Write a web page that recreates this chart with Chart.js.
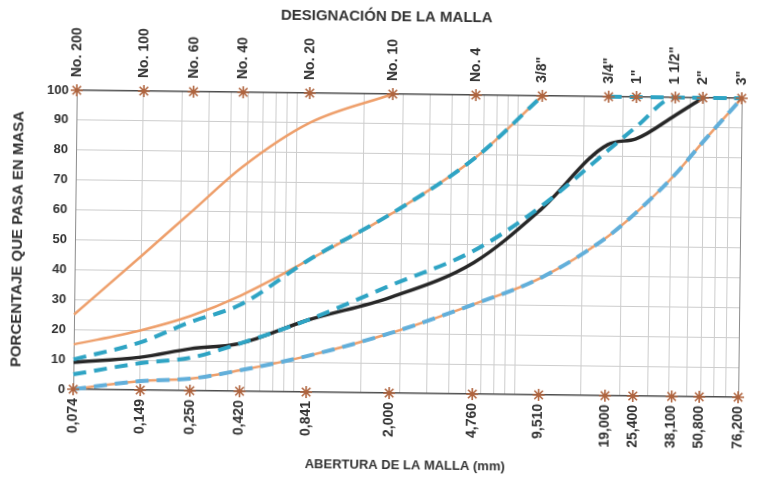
<!DOCTYPE html>
<html>
<head>
<meta charset="utf-8">
<title>Curva granulométrica</title>
<script src="https://cdn.jsdelivr.net/npm/chart.js@4.4.1/dist/chart.umd.min.js"></script>
<style>
  html, body { margin: 0; padding: 0; background: #ffffff; }
  #wrap { width: 768px; height: 479px; transform: rotate(0.69deg); transform-origin: 50% 50%; }
  canvas { display: block; }
</style>
</head>
<body>
<div id="wrap"><canvas id="granulometria" width="768" height="479"></canvas></div>
<script>
// Aberturas de tamiz (mm) y sus rótulos
const aberturas = [0.074, 0.149, 0.250, 0.420, 0.841, 2.000, 4.760, 9.510, 19.000, 25.400, 38.100, 50.800, 76.200];
const etiquetasAbertura = ['0,074', '0,149', '0,250', '0,420', '0,841', '2,000', '4,760', '9,510', '19,000', '25,400', '38,100', '50,800', '76,200'];
const designaciones = ['No. 200', 'No. 100', 'No. 60', 'No. 40', 'No. 20', 'No. 10', 'No. 4', '3/8"', '3/4"', '1"', '1 1/2"', '2"', '3"'];

// Porcentaje que pasa (%), en el orden de las aberturas
const limiteFinoSup = [25, 45, 60, 75, 90, 100];
const limiteSup = [15, 20, 25, 32, 44, 60, 79, 100];
const limiteInf = [0, 3, 4, 7, 12, 20, 30, 39, 53, 61, 74, 85, 100];
const husoSup = [10, 16, 23, 29, 44, 60, 79, 100];
const husoInf = [5, 9, 11, 16, 24, 36, 48, 63, 82, 90, 100, 100, 100];
const husoSupGrueso = [100, 100, 100, 100, 100];   // desde 3/4" hasta 3"
const muestra = [9, 11, 14, 16, 24, 32, 44, 62, 84, 86, 94, 100];

const FUENTE = "'Liberation Sans', Arial, sans-serif";
const TEXTO = '#333333';
const NARANJA = '#EE9F6B';
const CELESTE = '#2FA4C4';
const CELESTE_CLARO = '#62AFDA';
const NEGRO = '#272727';
const MARCA = '#B0643E';
const TAM_ROTULO = 14;

const XMIN = aberturas[0];
const XMAX = aberturas[aberturas.length - 1];

// Líneas de la cuadrícula logarítmica: múltiplos de la abertura mínima en cada década
const lineasGrilla = [];
for (let d = 0; d < 3; d++) {
  for (let k = 1; k <= 9; k++) lineasGrilla.push(XMIN * k * Math.pow(10, d));
}
lineasGrilla.push(XMAX);

const puntos = (valores, desde = 0) => valores.map((y, i) => ({ x: aberturas[desde + i], y }));

const curva = (valores, color, ancho, orden, guion, desde = 0) => ({
  data: puntos(valores, desde),
  borderColor: color,
  borderWidth: ancho,
  borderDash: guion || [],
  borderCapStyle: 'butt',
  pointRadius: 0,
  cubicInterpolationMode: 'monotone',
  fill: false,
  clip: false,
  order: orden,
  xAxisID: 'x',
  yAxisID: 'y'
});

const marcas = (nivel) => ({
  data: aberturas.map(x => ({ x, y: nivel })),
  showLine: false,
  pointStyle: 'star',
  pointRadius: 6,
  pointBorderColor: MARCA,
  pointBackgroundColor: MARCA,
  pointBorderWidth: 1.6,
  clip: false,
  order: 0,
  xAxisID: 'x',
  yAxisID: 'y'
});

const tamizTicks = (escala) => { escala.ticks = aberturas.map(v => ({ value: v })); };

new Chart(document.getElementById('granulometria'), {
  type: 'line',
  data: {
    datasets: [
      marcas(100),
      marcas(0),
      curva(husoSup, CELESTE, 4, 1, [13, 8]),
      curva(husoInf, CELESTE, 4, 1, [13, 8]),
      curva(husoSupGrueso, CELESTE, 4, 1, [13, 8], 8),
      curva(limiteInf, CELESTE_CLARO, 4, 1, [13, 8]),
      curva(muestra, NEGRO, 3.5, 2),
      curva(limiteFinoSup, NARANJA, 2.5, 3),
      curva(limiteSup, NARANJA, 2.5, 3),
      curva(limiteInf, NARANJA, 2.5, 3)
    ]
  },
  options: {
    responsive: false,
    devicePixelRatio: 1,
    animation: false,
    layout: { padding: 0 },
    plugins: {
      legend: { display: false },
      tooltip: { enabled: false },
      title: {
        display: true,
        text: 'DESIGNACIÓN DE LA MALLA',
        color: TEXTO,
        font: { family: FUENTE, size: 15, weight: 'bold' },
        padding: { top: 8, bottom: 0 }
      }
    },
    scales: {
      x: {
        type: 'logarithmic',
        position: 'bottom',
        min: XMIN,
        max: XMAX,
        afterBuildTicks: tamizTicks,
        afterFit: (s) => { s.height = 86; },
        grid: { display: false, drawTicks: false },
        border: { display: false },
        ticks: {
          autoSkip: false,
          minRotation: 90,
          maxRotation: 90,
          padding: 9,
          color: TEXTO,
          font: { family: FUENTE, size: TAM_ROTULO, weight: 'bold' },
          callback: (v, i) => etiquetasAbertura[i]
        },
        title: {
          display: true,
          text: 'ABERTURA DE LA MALLA (mm)',
          color: TEXTO,
          font: { family: FUENTE, size: 13, weight: 'bold' },
          padding: { top: 0, bottom: 6 }
        }
      },
      xg: {
        type: 'logarithmic',
        position: 'bottom',
        min: XMIN,
        max: XMAX,
        afterBuildTicks: (s) => { s.ticks = lineasGrilla.map(v => ({ value: v })); },
        afterFit: (s) => { s.height = 0; },
        ticks: { display: false },
        border: { display: false },
        grid: {
          drawTicks: false,
          color: (c) => (c.index === lineasGrilla.length - 1 ? '#8c8c8c' : '#cdcdcd'),
          lineWidth: 1
        }
      },
      x2: {
        type: 'logarithmic',
        position: 'top',
        min: XMIN,
        max: XMAX,
        afterBuildTicks: tamizTicks,
        afterFit: (s) => { s.height = 68; },
        grid: { display: false, drawTicks: false },
        border: { display: false },
        ticks: {
          autoSkip: false,
          minRotation: 90,
          maxRotation: 90,
          padding: 13,
          labelOffset: TAM_ROTULO * 1.2,
          color: TEXTO,
          font: { family: FUENTE, size: TAM_ROTULO, weight: 'bold' },
          callback: (v, i) => designaciones[i]
        }
      },
      y: {
        min: 0,
        max: 100,
        afterFit: (s) => { s.width = 75; },
        ticks: {
          stepSize: 10,
          padding: 8,
          color: TEXTO,
          font: { family: FUENTE, size: 13, weight: 'bold' }
        },
        grid: {
          drawTicks: false,
          color: (c) => (c.tick.value === 0 || c.tick.value === 100 ? '#4d4d4d' : '#cdcdcd'),
          lineWidth: (c) => (c.tick.value === 0 || c.tick.value === 100 ? 1.6 : 1)
        },
        border: { display: true, color: '#8c8c8c', width: 1 },
        title: {
          display: true,
          text: 'PORCENTAJE QUE PASA EN MASA',
          color: TEXTO,
          font: { family: FUENTE, size: 15, weight: 'bold' },
          padding: { top: 9, bottom: 0 }
        }
      },
      yd: {
        // margen derecho del gráfico
        position: 'right',
        min: 0,
        max: 100,
        afterFit: (s) => { s.width = 28; },
        ticks: { display: false },
        grid: { display: false, drawTicks: false },
        border: { display: false }
      }
    }
  }
});
</script>
</body>
</html>
